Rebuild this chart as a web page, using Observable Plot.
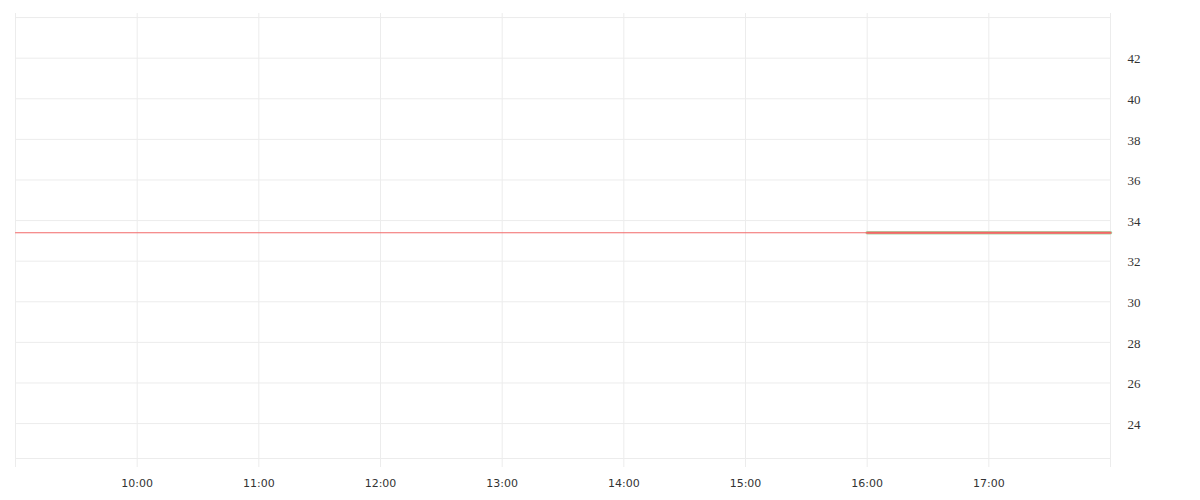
<!DOCTYPE html>
<html>
<head>
<meta charset="utf-8">
<script src="https://cdn.jsdelivr.net/npm/d3@7"></script>
<script src="https://cdn.jsdelivr.net/npm/@observablehq/plot@0.6"></script>
<style>
  html, body { margin: 0; padding: 0; background: #fff; }
</style>
</head>
<body>
<div id="chart"></div>
<script>
// Data
const day = "2024-01-02";
const lineTimes = ["09:00", "16:00", "18:00"];
const lineValues = [33.4, 33.4, 33.4];
const highlightTimes = ["16:00", "18:00"];
const highlightValues = [33.4, 33.4];
const hourTicks = ["09:00","10:00","11:00","12:00","13:00","14:00","15:00","16:00","17:00","18:00"];
const hourLabels = ["", "10:00","11:00","12:00","13:00","14:00","15:00","16:00","17:00", ""];
const yGrid = [24, 26, 28, 30, 32, 34, 36, 38, 40, 42, 44];
const yLabels = [24, 26, 28, 30, 32, 34, 36, 38, 40, 42];
const yDomain = [22.28, 44.2];

const t = s => new Date(`${day}T${s}:00Z`);
const line = lineTimes.map((s, i) => ({time: t(s), value: lineValues[i]}));
const highlight = highlightTimes.map((s, i) => ({time: t(s), value: highlightValues[i]}));
const xTicks = hourTicks.map(t);
const labelOf = new Map(hourTicks.map((s, i) => [+t(s), hourLabels[i]]));

const chart = Plot.plot({
  width: 1200,
  height: 500,
  marginLeft: 15,
  marginRight: 90,
  marginTop: 13,
  marginBottom: 42,
  x: {type: "utc", domain: [t("09:00"), t("18:00")], label: null},
  y: {domain: yDomain, label: null},
  style: {background: "#fff"},
  marks: [
    Plot.gridX(xTicks, {stroke: "#ececec", strokeOpacity: 1}),
    Plot.gridY(yGrid, {stroke: "#ececec", strokeOpacity: 1}),
    Plot.frame({anchor: "bottom", stroke: "#ececec"}),
    Plot.axisX(xTicks, {
      tickSize: 9, stroke: "#ececec", fill: "#333",
      tickPadding: 12, label: null,
      tickFormat: d => labelOf.get(+d),
      fontFamily: "DejaVu Sans", fontSize: 11
    }),
    Plot.axisY(yLabels, {
      anchor: "right", tickSize: 0, tickPadding: 17, dy: 1,
      textAnchor: "start", fill: "#333", label: null,
      fontFamily: "Liberation Serif", fontSize: 13
    }),
    Plot.line(highlight, {x: "time", y: "value", stroke: "#a8d8a8", strokeWidth: 3.5}),
    Plot.line(line, {x: "time", y: "value", stroke: "#f26a6a", strokeWidth: 1.2}),
    Plot.line(highlight, {x: "time", y: "value", stroke: "#f56565", strokeWidth: 2})
  ]
});
document.getElementById("chart").append(chart);
</script>
</body>
</html>
